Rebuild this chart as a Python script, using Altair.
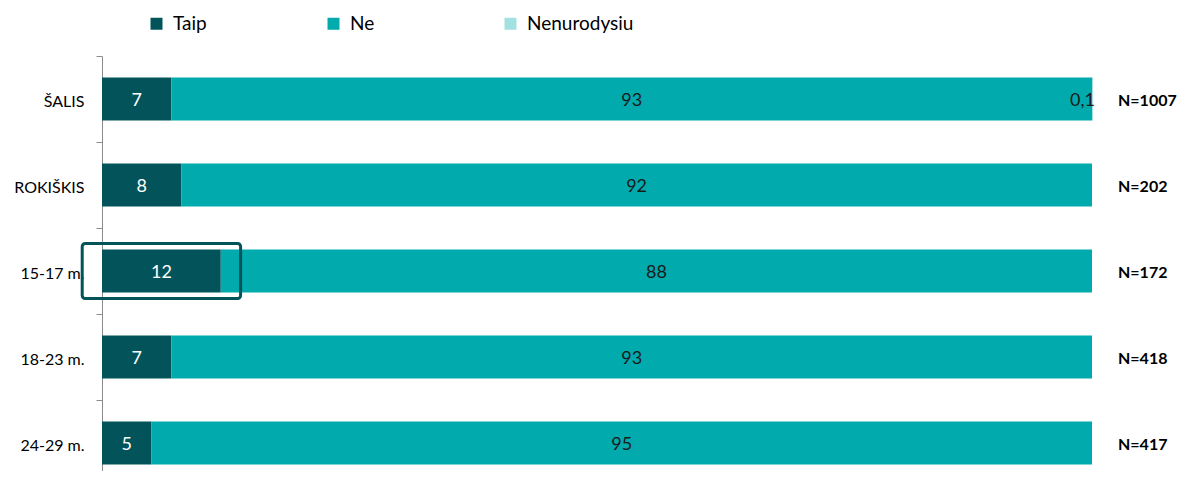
import altair as alt
import pandas as pd

categories = ["ŠALIS", "ROKIŠKIS", "15-17 m.", "18-23 m.", "24-29 m."]
series = ["Taip", "Ne", "Nenurodysiu"]
taip = [7, 8, 12, 7, 5]
ne = [93, 92, 88, 93, 95]
nenurodysiu = [0.1, 0, 0, 0, 0]
n_labels = ["N=1007", "N=202", "N=172", "N=418", "N=417"]
colors = ["#03545A", "#00AAAD", "#A2E0E1"]
highlight_category = "15-17 m."
highlight_range = [-2, 14]

FONT = "Lato"


def fmt(v):
    if float(v).is_integer():
        return str(int(v))
    return str(v).replace(".", ",")


rows = []
for i, cat in enumerate(categories):
    start = 0.0
    for s, vals in zip(series, [taip, ne, nenurodysiu]):
        v = vals[i]
        if v <= 0:
            continue
        rows.append({"category": cat, "series": s, "value": v, "start": start,
                     "end": start + v, "mid": start + v / 2, "label": fmt(v)})
        start += v
df = pd.DataFrame(rows)

df_n = pd.DataFrame({"category": categories, "n": n_labels})
df_h = pd.DataFrame({"category": [highlight_category],
                     "x0": [highlight_range[0]], "x1": [highlight_range[1]]})

y_enc = alt.Y("category:N", sort=categories,
              scale=alt.Scale(range=[0, 430], paddingInner=0, paddingOuter=0),
              axis=alt.Axis(title=None, tickBand="extent", tickSize=6,
                            domainColor="#8c8c8c", tickColor="#8c8c8c",
                            labelFontSize=16, labelColor="#000000",
                            labelPadding=12, labelFont=FONT, labelOffset=2))
x_scale = alt.Scale(domain=[0, 100], nice=False, zero=False)

bars = alt.Chart(df).mark_bar(size=43).encode(
    x=alt.X("start:Q", scale=x_scale, axis=None),
    x2="end:Q",
    y=y_enc,
    color=alt.Color("series:N", sort=series,
                    scale=alt.Scale(domain=series, range=colors),
                    legend=alt.Legend(orient="none", legendX=45, legendY=-42,
                                      direction="horizontal", title=None,
                                      symbolType="square", symbolSize=144,
                                      symbolStrokeWidth=0, labelFontSize=19,
                                      labelFont=FONT, labelColor="#000000",
                                      gridAlign="all",
                                      columnPadding=44, labelOffset=7)),
)

taip_text = alt.Chart(df).transform_filter(alt.datum.series == "Taip").mark_text(
    fontSize=18, font=FONT, color="white", dy=2
).encode(x=alt.X("mid:Q", scale=x_scale), y=alt.Y("category:N", sort=categories), text="label:N")

ne_text = alt.Chart(df).transform_filter(alt.datum.series == "Ne").mark_text(
    fontSize=18, font=FONT, color="#1a1a1a", dy=2
).encode(x=alt.X("mid:Q", scale=x_scale), y=alt.Y("category:N", sort=categories), text="label:N")

nn_text = alt.Chart(df).transform_filter(alt.datum.series == "Nenurodysiu").mark_text(
    fontSize=18, font=FONT, color="#1a1a1a", dy=2, align="right", dx=2
).encode(x=alt.X("end:Q", scale=x_scale), y=alt.Y("category:N", sort=categories), text="label:N")

n_text = alt.Chart(df_n).mark_text(
    fontSize=16, font=FONT, fontWeight="bold", color="#000000", align="left", dy=2
).encode(x=alt.value(1016), y=alt.Y("category:N", sort=categories), text="n:N")

highlight = alt.Chart(df_h).mark_bar(
    size=55, fillOpacity=0, stroke="#03545A", strokeWidth=3, cornerRadius=3
).encode(x=alt.X("x0:Q", scale=x_scale), x2="x1:Q", y=alt.Y("category:N", sort=categories))

chart = alt.layer(bars, taip_text, ne_text, nn_text, n_text, highlight).properties(
    width=990, height=415,
    autosize=alt.AutoSizeParams(type="none"),
    padding={"left": 94, "top": 48, "right": 87, "bottom": 0},
).configure_view(stroke=None)

chart.save("out.html", embed_options={"renderer": "svg", "actions": False})
